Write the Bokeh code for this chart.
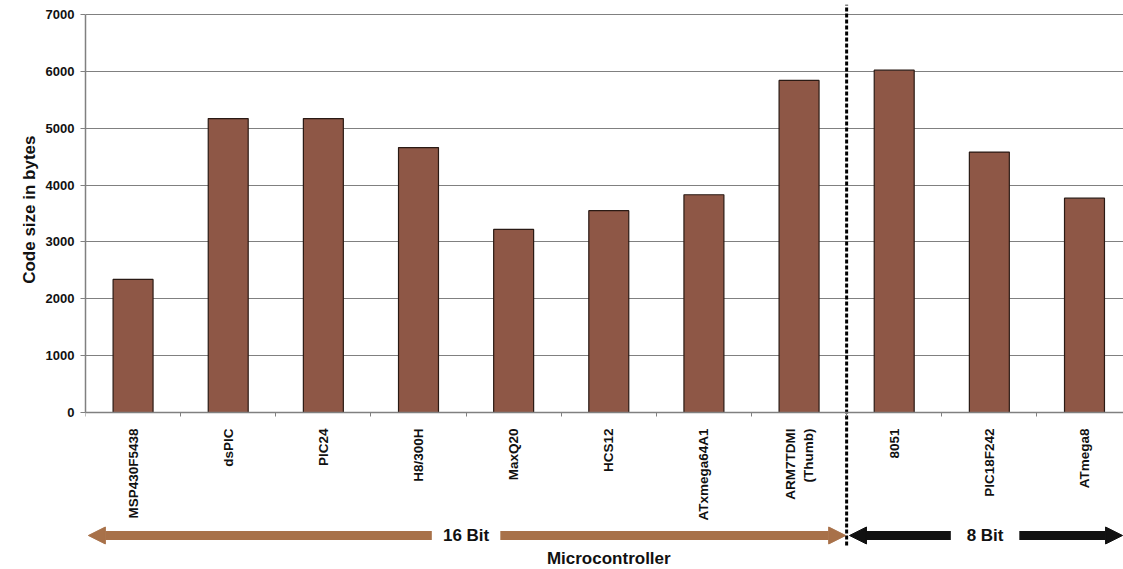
import math
from bokeh.plotting import figure
from bokeh.models import (Range1d, FixedTicker, Arrow, NormalHead, Label, Title, ColumnDataSource)
from bokeh.embed import file_html
from bokeh.resources import INLINE

categories = ["MSP430F5438", "dsPIC", "PIC24", "H8/300H", "MaxQ20", "HCS12",
              "ATxmega64A1", "ARM7TDMI\n(Thumb)", "8051", "PIC18F242", "ATmega8"]
code_size = [2340, 5170, 5170, 4660, 3220, 3550, 3830, 5840, 6020, 4580, 3770]
groups = ["16 Bit"] * 8 + ["8 Bit"] * 3
y_ticks = [0, 1000, 2000, 3000, 4000, 5000, 6000, 7000]

FONT = "Liberation Sans"
BAR = "#8E5746"
BROWN = "#A87149"
GRID = "#808080"

n = len(categories)
xs = [i + 0.5 for i in range(n)]

p = figure(width=1123, height=569, output_backend="svg", toolbar_location=None,
           x_range=Range1d(0, 10.91), y_range=Range1d(-2761, 7246),
           min_border_left=85, min_border_right=0, min_border_top=0, min_border_bottom=0)
p.outline_line_color = None
p.background_fill_color = "white"
p.border_fill_color = "white"

src = ColumnDataSource(dict(x=xs, top=code_size, name=categories))
p.vbar(x="x", top="top", bottom=0, width=0.42, source=src,
       fill_color=BAR, line_color="#2a1a14", line_width=1.2)

# y axis
p.yaxis.ticker = FixedTicker(ticks=y_ticks)
p.yaxis.bounds = (0, 7000)
p.yaxis.axis_line_color = GRID
p.yaxis.axis_line_width = 1.5
p.yaxis.major_tick_line_color = GRID
p.yaxis.major_tick_out = 5
p.yaxis.major_tick_in = 0
p.yaxis.minor_tick_line_color = None
p.yaxis.major_label_text_font = FONT
p.yaxis.major_label_text_font_style = "bold"
p.yaxis.major_label_text_font_size = "13px"
p.yaxis.major_label_text_color = "#111111"
p.yaxis.major_label_standoff = 6

p.add_layout(Title(text="Code size in bytes", align="right", offset=135, standoff=8,
                   text_font=FONT, text_font_style="bold", text_font_size="17px",
                   text_color="#111111"), "left")

p.ygrid.ticker = FixedTicker(ticks=y_ticks)
p.ygrid.grid_line_color = GRID
p.ygrid.grid_line_width = 1.2
p.xgrid.grid_line_color = None

# x axis at value 0
p.xaxis.fixed_location = 0
p.xaxis.ticker = FixedTicker(ticks=xs, minor_ticks=list(range(n + 1)))
p.xaxis.major_label_overrides = {x: c for x, c in zip(xs, categories)}
p.xaxis.major_label_orientation = math.pi / 2
p.xaxis.major_tick_line_color = None
p.xaxis.minor_tick_out = 4
p.xaxis.minor_tick_in = 0
p.xaxis.minor_tick_line_color = GRID
p.xaxis.axis_line_color = GRID
p.xaxis.axis_line_width = 1.5
p.xaxis.major_label_text_font = FONT
p.xaxis.major_label_text_font_style = "bold"
p.xaxis.major_label_text_font_size = "13.5px"
p.xaxis.major_label_text_color = "#111111"
p.xaxis.major_label_standoff = 10

# dashed separator between 16-bit and 8-bit
split = groups.index("8 Bit")
p.segment(x0=[split], y0=[-2340], x1=[split], y1=[7170],
          line_color="black", line_width=3, line_dash="4 2")

# group arrows
arrow_y = -2163
def group_arrows(start, end, label, color):
    mid = (start + end) / 2
    gap = 0.36
    for a, b in ((mid - gap, start + 0.03), (mid + gap, end - 0.01)):
        p.add_layout(Arrow(x_start=a, y_start=arrow_y, x_end=b, y_end=arrow_y,
                           line_color=color, line_width=9,
                           end=NormalHead(size=17, fill_color=color, line_color=color)))
    p.add_layout(Label(x=mid, y=arrow_y, text=label, text_align="center",
                       text_baseline="middle", text_font=FONT, text_font_style="bold",
                       text_font_size="17px", text_color="#111111"))

group_arrows(0, split, "16 Bit", BROWN)
group_arrows(split, 10.91, "8 Bit", "#111111")

p.add_layout(Label(x=n / 2, y=-2568, text="Microcontroller", text_align="center",
                   text_baseline="middle", text_font=FONT, text_font_style="bold",
                   text_font_size="17px", text_color="#111111"))

open("out.html", "w").write(file_html(p, INLINE))
